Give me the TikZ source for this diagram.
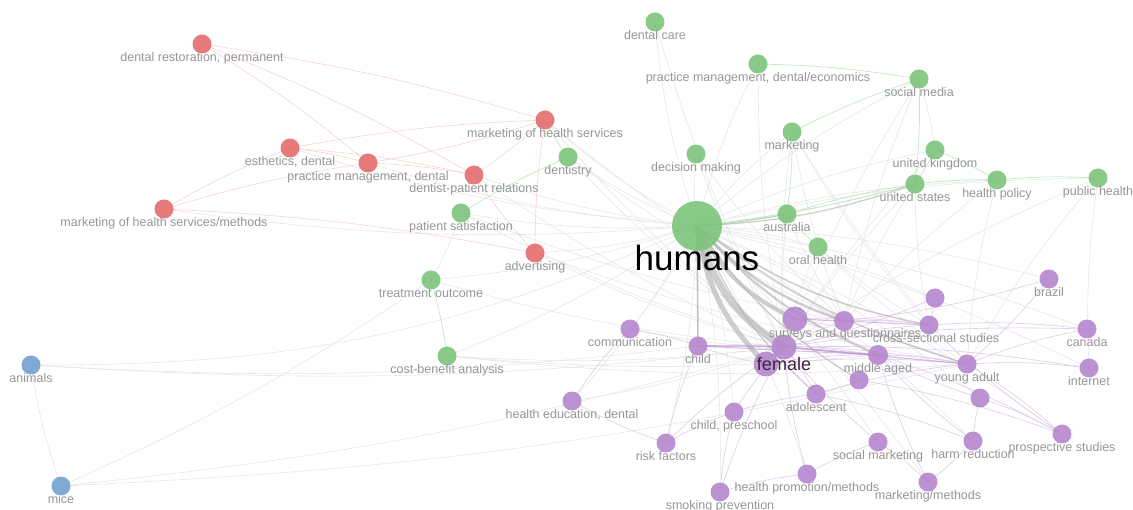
\documentclass[tikz,border=0pt]{standalone}
\usepackage{fontspec}
\setmainfont{Liberation Sans}
\usetikzlibrary{backgrounds}
\definecolor{cred}{RGB}{228,108,108}
\definecolor{cgreen}{RGB}{124,196,124}
\definecolor{cblue}{RGB}{114,160,206}
\definecolor{cpurp}{RGB}{182,134,206}
\definecolor{labgray}{RGB}{150,150,150}
\definecolor{egray}{RGB}{230,230,230}
\definecolor{edgray}{RGB}{180,180,180}
\definecolor{epurp}{RGB}{222,202,232}
\definecolor{ered}{RGB}{246,212,212}
\definecolor{egreen}{RGB}{198,230,198}
\definecolor{femtext}{RGB}{60,35,60}
\tikzset{
  kw/.style={circle, inner sep=0pt, minimum size=19pt, fill opacity=0.9},
  rn/.style={kw, fill=cred},
  gn/.style={kw, fill=cgreen},
  bn/.style={kw, fill=cblue},
  pn/.style={kw, fill=cpurp},
  bigp/.style={pn, minimum size=25pt},
  lab/.style={text=labgray, font=\fontsize{12.5}{14}\selectfont, inner sep=0pt, text height=9pt, text depth=2.5pt},
  eg/.style={draw=egray, line width=0.6pt},
  edg/.style={draw=edgray, line width=1.4pt, opacity=0.8},
  ep/.style={draw=epurp, line width=0.6pt},
  er/.style={draw=ered, line width=0.6pt},
  egr/.style={draw=egreen, line width=0.7pt},
  bundle/.style={draw=edgray, opacity=0.65},
  pbold/.style={draw=cpurp, opacity=0.55},
}
\newcommand\kw[5]{\node[#4] (#1) at (#2,#3) {}; \node[lab] (#1-l) at (#2,#3+14) {#5};}
\begin{document}
\begin{tikzpicture}[x=1pt,y=-1pt]
\useasboundingbox (0,0) rectangle (1133,510);
% red cluster
\kw{dr}{202}{44}{rn}{dental restoration, permanent}
\kw{mhs}{545}{120}{rn}{marketing of health services}
\kw{est}{290}{148}{rn}{esthetics, dental}
\kw{pmd}{368}{163}{rn}{practice management, dental}
\kw{dpr}{474}{175}{rn}{dentist-patient relations}
\kw{mhsm}{164}{209}{rn}{marketing of health services/methods}
\kw{adv}{535}{253}{rn}{advertising}
% green cluster
\kw{dc}{655}{22}{gn}{dental care}
\kw{pmde}{758}{64}{gn}{practice management, dental/economics}
\kw{sm}{919}{79}{gn}{social media}
\kw{mkt}{792}{132}{gn}{marketing}
\kw{dent}{568}{157}{gn}{dentistry}
\kw{dm}{696}{154}{gn}{decision making}
\kw{uk}{935}{150}{gn}{united kingdom}
\kw{us}{915}{184}{gn}{united states}
\kw{hp}{997}{180}{gn}{health policy}
\kw{ph}{1098}{178}{gn}{public health}
\kw{ps}{461}{213}{gn}{patient satisfaction}
\kw{aus}{787}{214}{gn}{australia}
\kw{oh}{818}{247}{gn}{oral health}
\kw{to}{431}{280}{gn}{treatment outcome}
\kw{cba}{447}{356}{gn}{cost-benefit analysis}
\node[gn, minimum size=50pt] (hum) at (697,226) {};
\node[font=\fontsize{35}{40}\selectfont, inner sep=0pt] (hum-l) at (697,258) {humans};
% blue cluster
\kw{ani}{31}{365}{bn}{animals}
\kw{mice}{61}{486}{bn}{mice}
% purple cluster
\kw{bra}{1049}{279}{pn}{brazil}
\node[pn] (p1) at (935,298) {};
\node[bigp] (q1) at (795,319) {};
\node[pn, minimum size=20pt] (svq) at (844,321) {};
\node[pn] (css) at (929,325) {};
\node[bigp] (fem) at (784,347) {};
\node[bigp] (p2) at (766,364) {};
\kw{child}{698}{346}{pn}{child}
\kw{com}{630}{329}{pn}{communication}
\node[pn, minimum size=20pt] (mid) at (878,355) {};
\node[pn] (p3) at (859,380) {};
\kw{ya}{967}{364}{pn}{young adult}
\kw{ado}{816}{394}{pn}{adolescent}
\node[pn] (p4) at (980,398) {};
\kw{can}{1087}{329}{pn}{canada}
\kw{int}{1089}{368}{pn}{internet}
\kw{hed}{572}{401}{pn}{health education, dental}
\kw{cps}{734}{412}{pn}{child, preschool}
\kw{rf}{666}{443}{pn}{risk factors}
\kw{smk}{878}{442}{pn}{social marketing}
\kw{hr}{973}{441}{pn}{harm reduction}
\kw{pst}{1062}{434}{pn}{prospective studies}
\kw{hpm}{807}{474}{pn}{health promotion/methods}
\kw{mm}{928}{482}{pn}{marketing/methods}
\kw{sp}{720}{492}{pn}{smoking prevention}
\node[lab] (svq-l) at (845,334) {surveys and questionnaires};
\node[lab] (css-l) at (936,339) {cross-sectional studies};
\node[lab] (mid-l) at (878,369) {middle aged};
\node[font=\fontsize{18}{20}\selectfont, text=femtext, inner sep=0pt] (fem-l) at (784,364) {female};
\begin{scope}[on background layer]
\foreach \b in {dc,pmde,sm,mkt,dent,dm,uk,hp,ph,ps,oh,to,cba,mhs,dpr,pmd,est,mhsm,adv,bra,can,int,pst,hr,smk,mm,hpm,com,hed,rf,cps,sp,p1,p4}
  \draw[eg] (hum.center) to[bend left=6] (\b.center);
\foreach \a/\b in {ani/child,ani/fem,mice/to,mice/fem,mice/ya,dm/fem,dm/svq,mkt/fem,mkt/svq,mkt/css,mkt/ya,sm/svq,sm/fem,uk/fem,us/fem,us/svq,us/css,hp/ya,hp/svq,ph/fem,ph/ya,dc/fem,pmde/fem,dent/fem,dent/svq,ps/fem,ps/svq,to/fem,cba/fem,cba/ya,cba/mid,adv/fem,adv/ya,mhs/fem,mhs/svq,oh/fem,oh/ya,oh/css,aus/fem,aus/svq,dpr/fem,com/fem,hed/fem,ani/mice,to/ps,uk/sm,ph/int}
  \draw[eg] (\a.center) to[bend right=5] (\b.center);
\draw[eg] (ani.center) to[bend right=12] (hum.center);
\foreach \a/\b in {fem/svq,fem/css,fem/int,fem/can,fem/ado,child/mid,child/ya,q1/css,q1/mid,svq/css,mid/ya,ya/int,ya/can,css/can,p2/mid,p2/ya,ado/ya,ado/hr,mid/pst,ya/pst,p3/pst,p4/pst,smk/mm,hr/mm,hpm/smk,sp/cps,rf/cps,rf/child,cps/ado,hed/com,com/child,rf/hed,sp/hpm,hr/p4,bra/svq,bra/ya,p1/css,p1/fem,q1/ya,p2/child,p3/ado,smk/fem,hpm/fem,mm/mid,hr/mid,pst/css,p4/mid,cps/fem,sp/fem,rf/fem}
  \draw[ep] (\a.center) to[bend left=5] (\b.center);
\foreach \a/\b in {dr/mhs,dr/dpr,dr/pmd,est/pmd,est/dpr,est/mhs,pmd/dpr,mhsm/est,mhsm/pmd,mhsm/adv,mhs/pmd,mhs/dpr,adv/mhs,adv/dpr}
  \draw[er] (\a.center) to[bend left=4] (\b.center);
\foreach \a/\b in {mkt/sm,mkt/aus,sm/us,uk/us,us/hp,hp/ph,uk/hp,to/cba,ps/dent,dent/mhs,aus/us,oh/aus,pmde/sm}
  \draw[egr] (\a.center) to[bend left=4] (\b.center);
\draw[egr, draw=cgreen!60, line width=1.2pt] (hum.center) to[bend right=3] (aus.center);
\draw[egr, line width=1pt] (hum.center) to[bend right=4] (us.center);
\draw[edg, line width=1.6pt] (hum.center) -- (child.center);
\draw[bundle, line width=7pt] (hum.center) to[bend right=22] (fem.center);
\draw[bundle, line width=5pt] (hum.center) to[bend right=18] (p2.center);
\draw[bundle, line width=4pt] (hum.center) to[bend right=18] (q1.center);
\draw[bundle, line width=2.5pt] (hum.center) to[bend right=14] (svq.center);
\draw[bundle, line width=2pt] (hum.center) to[bend right=12] (mid.center);
\draw[bundle, line width=1.5pt] (hum.center) to[bend right=12] (css.center);
\draw[bundle, line width=1.5pt] (hum.center) to[bend right=10] (ya.center);
\draw[bundle, line width=1.3pt] (hum.center) to[bend right=12] (ado.center);
\draw[bundle, line width=1.3pt] (hum.center) to[bend right=12] (p3.center);
\draw[bundle, line width=1.2pt] (hum.center) to[bend right=8] (us.center);
\draw[pbold, line width=1.6pt] (fem.center) -- (mid.center);
\draw[pbold, line width=1.4pt] (child.center) -- (fem.center);
\draw[pbold, line width=1.2pt] (fem.center) -- (ya.center);
\draw[pbold, line width=1.2pt] (q1.center) -- (svq.center);
\draw[pbold, line width=1pt] (svq.center) -- (css.center);
\draw[pbold, line width=1pt] (child.center) -- (mid.center);
\end{scope}
\end{tikzpicture}
\end{document}
